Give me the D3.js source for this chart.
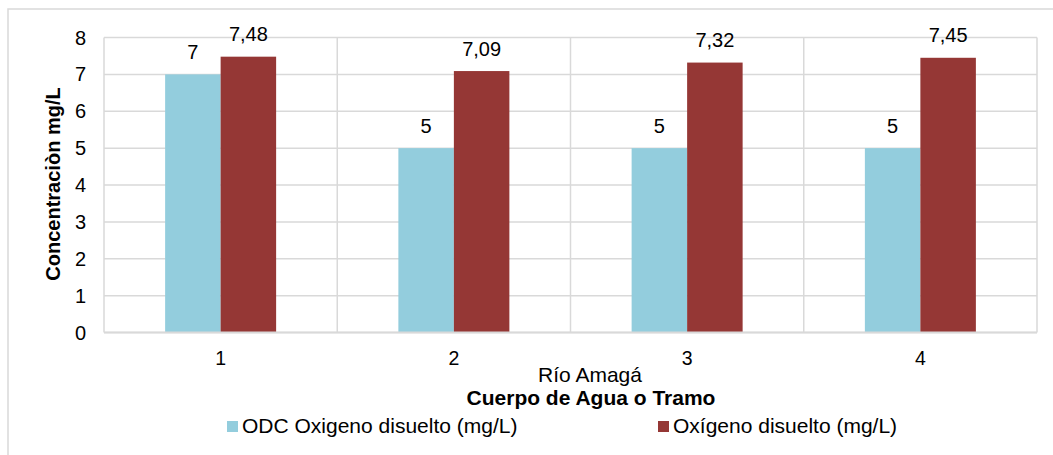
<!DOCTYPE html>
<html><head><meta charset="utf-8">
<script src="https://cdn.jsdelivr.net/npm/d3@7"></script>
<style>body{margin:0;background:#fff}svg{display:block;font-family:"Liberation Sans",Arial,sans-serif}</style>
</head><body><svg id="c" width="1053" height="455"></svg>
<script>
const categories = ["1","2","3","4"];
const seriesNames = ["ODC Oxigeno disuelto (mg/L)", "Oxígeno disuelto (mg/L)"];
const odcValues = [7, 5, 5, 5];
const oxigenoValues = [7.48, 7.09, 7.32, 7.45];
const yTicks = [0,1,2,3,4,5,6,7,8];
const colors = ["#93CDDD", "#953735"];

const svg = d3.select("#c");
// outer chart frame
svg.append("rect").attr("x",8).attr("y",9).attr("width",1060).attr("height",460)
  .attr("fill","none").attr("stroke","#d9d9d9").attr("stroke-width",1.5);

const L=104, R=1037, T=37.5, B=332.5;
const x = d3.scaleBand().domain(categories).range([L,R]);
const y = d3.scaleLinear().domain([0,8]).range([B,T]);
const barW = 55.5;
const xs = d3.scaleBand().domain([0,1]).range([-barW, barW]).padding(0);

// horizontal gridlines
svg.append("g").selectAll("line").data(yTicks).join("line")
  .attr("x1",L).attr("x2",R).attr("y1",d=>y(d)).attr("y2",d=>y(d))
  .attr("stroke","#d9d9d9").attr("stroke-width",1.5);
// vertical gridlines at category boundaries
const bounds = categories.map(c=>x(c)).concat([R]);
svg.append("g").selectAll("line").data(bounds).join("line")
  .attr("x1",d=>d).attr("x2",d=>d).attr("y1",T).attr("y2",B)
  .attr("stroke","#d9d9d9").attr("stroke-width",1.5);

const data = categories.map((c,i)=>({c, vals:[odcValues[i], oxigenoValues[i]]}));
const fmt = v => String(v).replace(".", ",");

const g = svg.append("g").selectAll("g").data(data).join("g")
  .attr("transform", d=>`translate(${x(d.c)+x.bandwidth()/2},0)`);
g.selectAll("rect").data(d=>d.vals.map((v,k)=>({v,k}))).join("rect")
  .attr("x",d=>xs(d.k)).attr("width",xs.bandwidth())
  .attr("y",d=>y(d.v)).attr("height",d=>B-y(d.v))
  .attr("fill",d=>colors[d.k]);
g.selectAll("text").data(d=>d.vals.map((v,k)=>({v,k}))).join("text")
  .attr("x",d=>xs(d.k)+xs.bandwidth()/2).attr("y",d=>y(d.v)-15.5)
  .attr("text-anchor","middle").attr("font-size",20).attr("fill","#000")
  .text(d=>fmt(d.v));

// bottom axis line
svg.append("line").attr("x1",L).attr("x2",R).attr("y1",B).attr("y2",B)
  .attr("stroke","#d9d9d9").attr("stroke-width",2);

// y tick labels
svg.append("g").selectAll("text").data(yTicks).join("text")
  .attr("x",86).attr("y",d=>y(d)+7).attr("text-anchor","end")
  .attr("font-size",20).text(d=>d);
// x tick labels
svg.append("g").selectAll("text").data(categories).join("text")
  .attr("x",d=>x(d)+x.bandwidth()/2).attr("y",365).attr("text-anchor","middle")
  .attr("font-size",19.5).text(d=>d);

svg.append("text").attr("x",590).attr("y",381.5).attr("text-anchor","middle")
  .attr("font-size",21).text("Río Amagá");
svg.append("text").attr("x",591).attr("y",405).attr("text-anchor","middle")
  .attr("font-size",21).attr("font-weight","bold").text("Cuerpo de Agua o Tramo");
svg.append("text").attr("transform","translate(60,184) rotate(-90)").attr("text-anchor","middle")
  .attr("font-size",20).attr("font-weight","bold").text("Concentraciòn mg/L");

// legend
const legX = [227, 658];
const lg = svg.append("g").selectAll("g").data(seriesNames).join("g")
  .attr("transform",(d,i)=>`translate(${legX[i]},421)`);
lg.append("rect").attr("width",11).attr("height",11).attr("fill",(d,i)=>colors[i]);
lg.append("text").attr("x",15).attr("y",11.5).attr("font-size",21).text(d=>d);
</script></body></html>
